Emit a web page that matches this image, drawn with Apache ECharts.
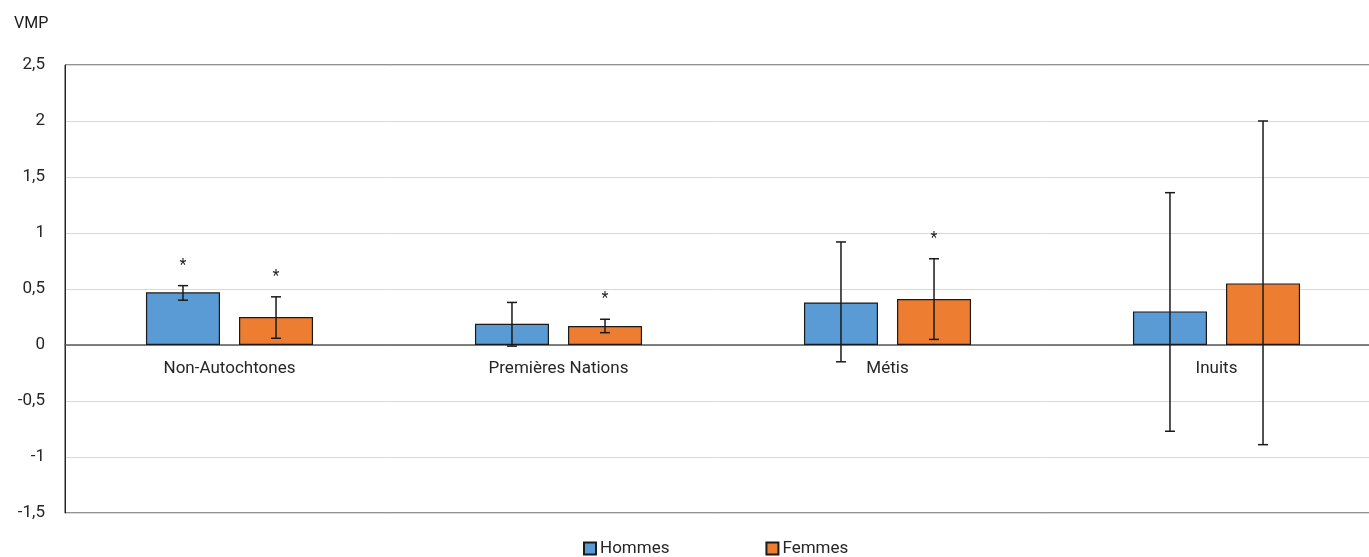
<!DOCTYPE html>
<html>
<head>
<meta charset="utf-8">
<script src="https://cdn.jsdelivr.net/npm/echarts@6/dist/echarts.min.js"></script>
<style>
  html, body { margin: 0; padding: 0; background: #fff; }
  #chart { width: 1369px; height: 557px; }
</style>
</head>
<body>
<div id="chart"></div>
<script>
// catégories et valeurs (VMP)
var categories = ['Non-Autochtones', 'Premières Nations', 'Métis', 'Inuits'];
var hommes = [0.47, 0.19, 0.38, 0.30];
var femmes = [0.25, 0.17, 0.41, 0.55];
// intervalles de confiance
var hommesBas = [0.40, -0.01, -0.15, -0.77];
var hommesHaut = [0.53, 0.38, 0.92, 1.36];
var femmesBas = [0.06, 0.11, 0.05, -0.89];
var femmesHaut = [0.43, 0.23, 0.77, 2.00];
// * = différence significative
var hommesSig = [1, 0, 0, 0];
var femmesSig = [1, 1, 1, 0];
var yTicks = [-1.5, -1, -0.5, 0, 0.5, 1, 1.5, 2, 2.5];

var FONT = '"Roboto", sans-serif';
var BAR_W = 0.225; // part de la catégorie
var BAR_GAP = 0.257; // part de la barre

function errData(bas, haut, sig) {
  return categories.map(function (c, i) {
    return [i, bas[i], haut[i], sig[i]];
  });
}

function errSeries(name, data, side) {
  return {
    name: name + ' IC',
    type: 'custom',
    z: 5,
    renderItem: function (params, api) {
      var i = api.value(0);
      var lo = api.coord([i, api.value(1)]);
      var hi = api.coord([i, api.value(2)]);
      var bw = api.size([1, 0])[0];
      var w = bw * BAR_W;
      var x = lo[0] + side * (w + w * BAR_GAP) / 2;
      var cap = 5;
      var style = { stroke: '#1a1a1a', lineWidth: 1.5 };
      var children = [
        { type: 'line', shape: { x1: x, y1: hi[1], x2: x, y2: lo[1] }, style: style },
        { type: 'line', shape: { x1: x - cap, y1: hi[1], x2: x + cap, y2: hi[1] }, style: style },
        { type: 'line', shape: { x1: x - cap, y1: lo[1], x2: x + cap, y2: lo[1] }, style: style }
      ];
      if (api.value(3)) {
        children.push({
          type: 'text',
          style: {
            text: '*', x: x, y: hi[1] - 20,
            align: 'center', verticalAlign: 'middle',
            font: '16px ' + FONT, fill: '#262626'
          }
        });
      }
      return { type: 'group', children: children };
    },
    encode: { x: 0, y: [1, 2] },
    data: data
  };
}

// étiquettes des catégories, posées sous la ligne du zéro
var labelSeries = {
  name: 'etiquettes',
  type: 'custom',
  z: 4,
  renderItem: function (params, api) {
    var p = api.coord([api.value(0), 0]);
    return {
      type: 'text',
      style: {
        text: categories[api.value(0)], x: p[0], y: p[1] + 24,
        align: 'center', verticalAlign: 'middle',
        font: '17px ' + FONT, fill: '#262626'
      }
    };
  },
  encode: { x: 0, y: 1 },
  data: categories.map(function (c, i) { return [i, 0]; })
};

var chart = echarts.init(document.getElementById('chart'));
var option = {
  backgroundColor: '#fff',
  animation: false,
  title: {
    text: 'VMP',
    left: 9, top: 11,
    textStyle: { fontFamily: FONT, fontSize: 16, fontWeight: 'normal', color: '#1a1a1a' }
  },
  legend: {
    data: ['Hommes', 'Femmes'],
    top: 535,
    left: 578,
    itemWidth: 12, itemHeight: 12, itemGap: 96,
    icon: 'rect',
    textStyle: { fontFamily: FONT, fontSize: 17, color: '#262626', padding: [0, 0, 0, -1] }
  },
  grid: {
    left: 65, width: 1316, top: 65, height: 448,
    outerBoundsMode: 'none',
    show: true, borderColor: '#262626', borderWidth: 1
  },
  xAxis: {
    type: 'category',
    data: categories,
    axisLine: { onZero: true, lineStyle: { color: '#595959', width: 1.5 } },
    axisTick: { show: false },
    axisLabel: { show: false },
    splitLine: { show: false }
  },
  yAxis: {
    type: 'value',
    min: yTicks[0], max: yTicks[yTicks.length - 1], interval: 0.5,
    axisLine: { show: true, lineStyle: { color: '#262626' } },
    axisTick: { show: false },
    axisLabel: {
      fontFamily: FONT, fontSize: 17, color: '#262626', margin: 20,
      formatter: function (v) { return String(v).replace('.', ','); }
    },
    splitLine: { lineStyle: { color: '#d9d9d9', width: 1 } }
  },
  series: [
    {
      name: 'Hommes', type: 'bar', data: hommes,
      barWidth: (BAR_W * 100) + '%', barGap: (BAR_GAP * 100) + '%',
      itemStyle: { color: '#5B9BD5', borderColor: '#1a1a1a', borderWidth: 1.2 }
    },
    {
      name: 'Femmes', type: 'bar', data: femmes,
      barWidth: (BAR_W * 100) + '%',
      itemStyle: { color: '#ED7D31', borderColor: '#1a1a1a', borderWidth: 1.2 }
    },
    errSeries('Hommes', errData(hommesBas, hommesHaut, hommesSig), -1),
    errSeries('Femmes', errData(femmesBas, femmesHaut, femmesSig), 1),
    labelSeries
  ]
};
chart.setOption(option);
</script>
</body>
</html>
